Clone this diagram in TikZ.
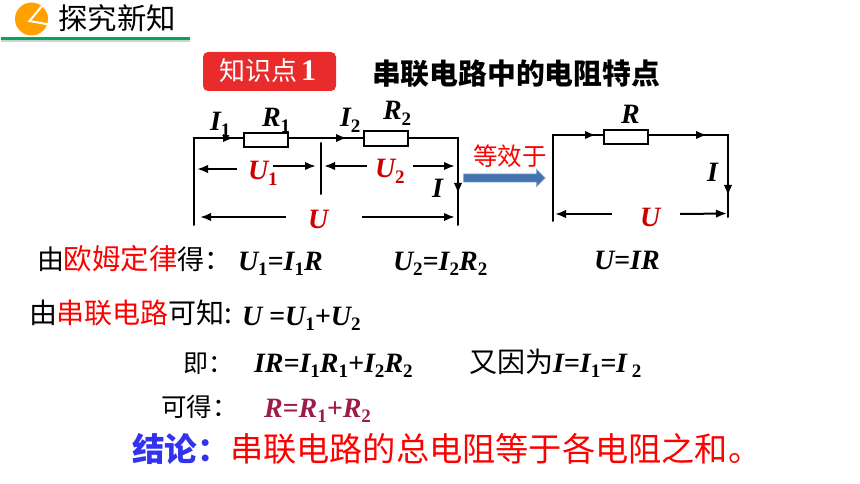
\documentclass[tikz,border=0pt]{standalone}
\usepackage{fontspec}
\setmainfont{Liberation Serif}
\newfontfamily\cjk{Noto Sans CJK SC}
\newfontfamily\tnr{Liberation Serif}
\usetikzlibrary{arrows.meta,shapes.arrows}
\definecolor{ptred}{HTML}{FF0000}
\definecolor{darkred}{HTML}{CC0000}
\definecolor{badge}{HTML}{E92B2B}
\definecolor{wine}{HTML}{9B1C4A}
\definecolor{confblue}{HTML}{3333EE}
\definecolor{arrowblue}{HTML}{4573AD}
\definecolor{pieorange}{HTML}{FFA200}
\newcommand\sbs[1]{\raisebox{-.2em}{\scalebox{.68}{\upshape\bfseries #1}}}
\newcommand\sze[1]{\fontsize{#1}{#1}\selectfont}
\tikzset{
  x=1pt,y=-1pt,
  wire/.style={line width=2pt,line cap=round,line join=miter,black},
  res/.style={draw=black,line width=2pt,fill=white,rectangle,minimum width=44pt,minimum height=14.5pt,inner sep=0pt},
  midhead/.style={black,-{Latex[length=11pt,width=8.5pt]},line width=2pt},
  volt/.style={black,line width=2pt,-{Latex[length=11pt,width=8.5pt]}},
  lab/.style={anchor=base west,inner sep=0pt,outer sep=0pt},
  zh/.style={lab,font=\cjk\sze{#1}},
  zh/.default=24,
  mth/.style={lab,font=\tnr\bfseries\itshape\sze{#1}},
  mth/.default=28,
}
\begin{document}
\begin{tikzpicture}
\useasboundingbox[fill=white] (0,0) rectangle (860,484);
% header
\fill[gray!35] (1,40) rectangle (190,42);
\draw[draw=none,fill={rgb,255:red,0;green,168;blue,89}] (1,37) rectangle (190,40);
\fill[pieorange] (31.5,19) circle (16.5);
\draw[white,line width=2pt,line join=miter] (42,6) -- (29.5,21) -- (49,24.5);
\node[zh=29.4,anchor=base west] (title) at (58.5,30) {探究新知};
% badge and heading
\node[rectangle,rounded corners=5pt,fill=badge,minimum width=133pt,minimum height=39pt,inner sep=0pt] (badgebox) at (269.5,71.5) {};
\node[lab,text=white,font=\cjk\sze{26}] (badgetxt) at (219,81) {知识点\hspace{4pt}{\tnr\bfseries\sze{30}1}};
\node[lab,font=\cjk\bfseries\sze{28.8}] (heading) at (372,84.5) {串联电路中的电阻特点};
% left circuit
\coordinate (lb) at (194,225);
\coordinate (rb) at (458,225);
\node[res] (R1) at (266,140) {};
\node[res] (R2) at (386,138.5) {};
\draw[wire] (lb) -- (194,138) -- (R1.west |- 0,138);
\draw[wire] (R1.east |- 0,138) -- (R2.west |- 0,138);
\draw[wire] (R2.east |- 0,138) -- (458,138) -- (rb);
\coordinate (a1s) at (205,138); \coordinate (a1e) at (234,138);
\coordinate (a2s) at (300,138); \coordinate (a2e) at (347,138);
\coordinate (a3s) at (458,170); \coordinate (a3e) at (458,194);
\foreach \p/\q in {a1s/a1e,a2s/a2e,a3s/a3e} \draw[midhead] (\p) -- (\q);
\coordinate (div1) at (321,143); \coordinate (div2) at (321,194);
\draw[wire] (div1) -- (div2);
\node[mth=28,text=black] (I1) at (210,131) {I\sbs{1}};
\node[mth=28,text=black] (nR1) at (262,127) {R\sbs{1}};
\node[mth=28,text=black] (I2) at (340,127) {I\sbs{2}};
\node[mth=28,text=black] (nR2) at (383,120) {R\sbs{2}};
\node[mth=28,text=darkred] (U1) at (248,180) {U\sbs{1}};
\node[mth=28,text=darkred] (U2) at (375,178) {U\sbs{2}};
\node[mth=28,text=black] (Il) at (432,197) {I};
\node[mth=28,text=darkred] (Ul) at (308,228) {U};
\coordinate (v1a) at (237,169); \coordinate (v1b) at (197,169);
\coordinate (v2a) at (273,166); \coordinate (v2b) at (316,166);
\coordinate (v3a) at (367,166); \coordinate (v3b) at (324,166);
\coordinate (v4a) at (413,166); \coordinate (v4b) at (455,166);
\coordinate (v5a) at (286,217); \coordinate (v5b) at (200,217);
\coordinate (v6a) at (362,217); \coordinate (v6b) at (455,217);
\foreach \p/\q in {v1a/v1b,v2a/v2b,v3a/v3b,v4a/v4b,v5a/v5b,v6a/v6b} \draw[volt] (\p) -- (\q);
% equivalence arrow
\node[lab,text=ptred,font=\cjk\sze{24.5}] (eq) at (473,166) {等效于};
\coordinate (ba) at (463,178);
\node[single arrow,draw={rgb,255:red,150;green,180;blue,215},line width=.6pt,fill=arrowblue,minimum height=82pt,minimum width=18pt,single arrow head extend=4pt,single arrow tip angle=90,inner sep=3pt,anchor=west] (bigarrow) at (ba) {};
% right circuit
\node[res,minimum height=14pt] (R) at (625.5,137.5) {};
\coordinate (c1) at (553,221);
\coordinate (c2) at (728,217);
\draw[wire] (c1) -- (553,135) -- (R.west |- 0,135);
\draw[wire] (R.east |- 0,135) -- (728,135) -- (c2);
\coordinate (a4s) at (565,135); \coordinate (a4e) at (596,135);
\coordinate (a5s) at (660,135); \coordinate (a5e) at (707,135);
\coordinate (a6s) at (728,165); \coordinate (a6e) at (728,196);
\foreach \p/\q in {a4s/a4e,a5s/a5e,a6s/a6e} \draw[midhead] (\p) -- (\q);
\node[mth=28,text=black] (nR) at (621,124) {R};
\node[mth=28,text=black] (Ir) at (707,182) {I};
\node[mth=28,text=darkred] (Ur) at (640,226) {U};
\coordinate (v7a) at (612,214); \coordinate (v7b) at (555,214);
\coordinate (v8a) at (680,214); \coordinate (v8b) at (727,213.5);
\foreach \p/\q in {v7a/v7b,v8a/v8b} \draw[volt] (\p) -- (\q);
% text rows
\node[zh=27] (r1a) at (37,269.5) {由{\color{ptred}\sze{28.5}欧姆定律}得：};
\node[mth=28] (r1b) at (238,270) {U\sbs{1}=I\sbs{1}R};
\node[mth=28] (r1c) at (393,270) {U\sbs{2}=I\sbs{2}R\sbs{2}};
\node[mth=28] (r1d) at (594,269) {U=IR};
\node[zh=28] (r2a) at (29,323) {由{\color{ptred}串联电路}可知:};
\node[mth=28] (r2b) at (242,325) {U =U\sbs{1}+U\sbs{2}};
\node[zh=25] (r3a) at (183,372) {即：};
\node[mth=28] (r3b) at (254,372) {IR=I\sbs{1}R\sbs{1}+I\sbs{2}R\sbs{2}};
\node[zh=28] (r3c) at (469,372) {又因为};
\node[mth=28] (r3d) at (553,372) {I=I\sbs{1}=I\,\sbs{2}};
\node[zh=25.5] (r4a) at (161,416) {可得：};
\node[mth=28,text=wine] (r4b) at (264,417) {R=R\sbs{1}+R\sbs{2}};
\node[lab,font=\cjk\bfseries\sze{32.6},text=confblue] (c1t) at (132,461) {结论：};
\node[lab,font=\cjk\sze{33.2},text=ptred] (c2t) at (230,461) {串联电路的总电阻等于各电阻之和。};
\end{tikzpicture}
\end{document}
